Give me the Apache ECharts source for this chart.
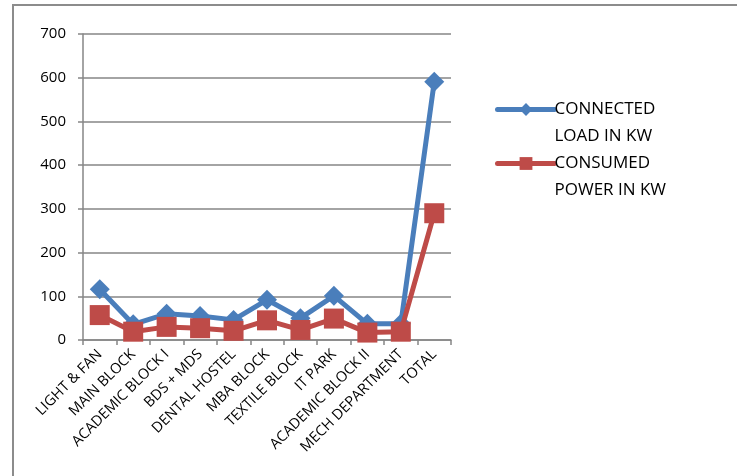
<!DOCTYPE html>
<html>
<head>
<meta charset="utf-8">
<script src="https://cdn.jsdelivr.net/npm/echarts@6/dist/echarts.min.js"></script>
<style>
  html, body { margin: 0; padding: 0; background: #fff; }
  #chart { width: 737px; height: 476px; }
</style>
</head>
<body>
<div id="chart"></div>
<script>
// Building-wise load data (kW)
const categories = [
  'LIGHT & FAN', 'MAIN BLOCK', 'ACADEMIC BLOCK I', 'BDS + MDS', 'DENTAL HOSTEL',
  'MBA BLOCK', 'TEXTILE BLOCK', 'IT PARK', 'ACADEMIC BLOCK II', 'MECH DEPARTMENT', 'TOTAL'
];
const connectedLoad = [116, 36, 60, 55, 46, 92, 50, 101, 37, 37, 591];
const consumedPower = [57, 19, 30, 27, 21, 45, 23, 49, 17, 19, 290];
const yTicks = { min: 0, max: 700, interval: 100 };

const FONT = '"Open Sans", "Liberation Sans", sans-serif';
const chart = echarts.init(document.getElementById('chart'), null, { renderer: 'canvas' });

// Legend names wrap onto two lines; a blank leading line keeps the
// first line level with the legend symbol.
function legendLabel(name) {
  const parts = name.split(' ');
  return ' \n' + parts.slice(0, 1).join(' ') + '\n' + parts.slice(1).join(' ');
}

chart.setOption({
  backgroundColor: '#ffffff',
  animation: false,
  graphic: [{
    type: 'rect',
    shape: { x: 13, y: 5, width: 740, height: 490 },
    style: { fill: 'none', stroke: '#8c8c8c', lineWidth: 2 },
    silent: true
  }],
  grid: { left: 83, right: 286, top: 34, bottom: 136, containLabel: false },
  legend: {
    orient: 'vertical',
    left: 490,
    top: 64,
    itemWidth: 57,
    itemHeight: 16,
    itemGap: -27,
    lineStyle: { width: 5, cap: 'round' },
    formatter: legendLabel,
    textStyle: { fontFamily: FONT, fontSize: 17, color: '#000', lineHeight: 27, padding: [0, 0, 0, -5] }
  },
  xAxis: {
    type: 'category',
    data: categories,
    boundaryGap: true,
    axisLine: { lineStyle: { color: '#868686', width: 1.5 } },
    axisTick: { show: true, length: 5, lineStyle: { color: '#868686', width: 1.5 } },
    axisLabel: { rotate: 45, fontFamily: FONT, fontSize: 14.5, color: '#000', margin: 12, interval: 0 }
  },
  yAxis: {
    type: 'value',
    min: yTicks.min, max: yTicks.max, interval: yTicks.interval,
    axisLine: { show: true, lineStyle: { color: '#868686', width: 1.5 } },
    axisTick: { show: true, length: 5, lineStyle: { color: '#868686', width: 1.5 } },
    splitLine: { lineStyle: { color: '#868686', width: 1.5 } },
    axisLabel: { fontFamily: FONT, fontSize: 15, color: '#000', margin: 17 }
  },
  series: [
    {
      name: 'CONNECTED LOAD IN KW',
      type: 'line',
      data: connectedLoad,
      symbol: 'diamond',
      symbolSize: 20,
      color: '#4a7ebb',
      lineStyle: { width: 5, color: '#4a7ebb' },
      itemStyle: { color: '#4a7ebb' },
      z: 2
    },
    {
      name: 'CONSUMED POWER IN KW',
      type: 'line',
      data: consumedPower,
      symbol: 'rect',
      symbolSize: 20,
      color: '#be4b48',
      lineStyle: { width: 5, color: '#be4b48' },
      itemStyle: { color: '#be4b48' },
      z: 3
    }
  ]
});
</script>
</body>
</html>
